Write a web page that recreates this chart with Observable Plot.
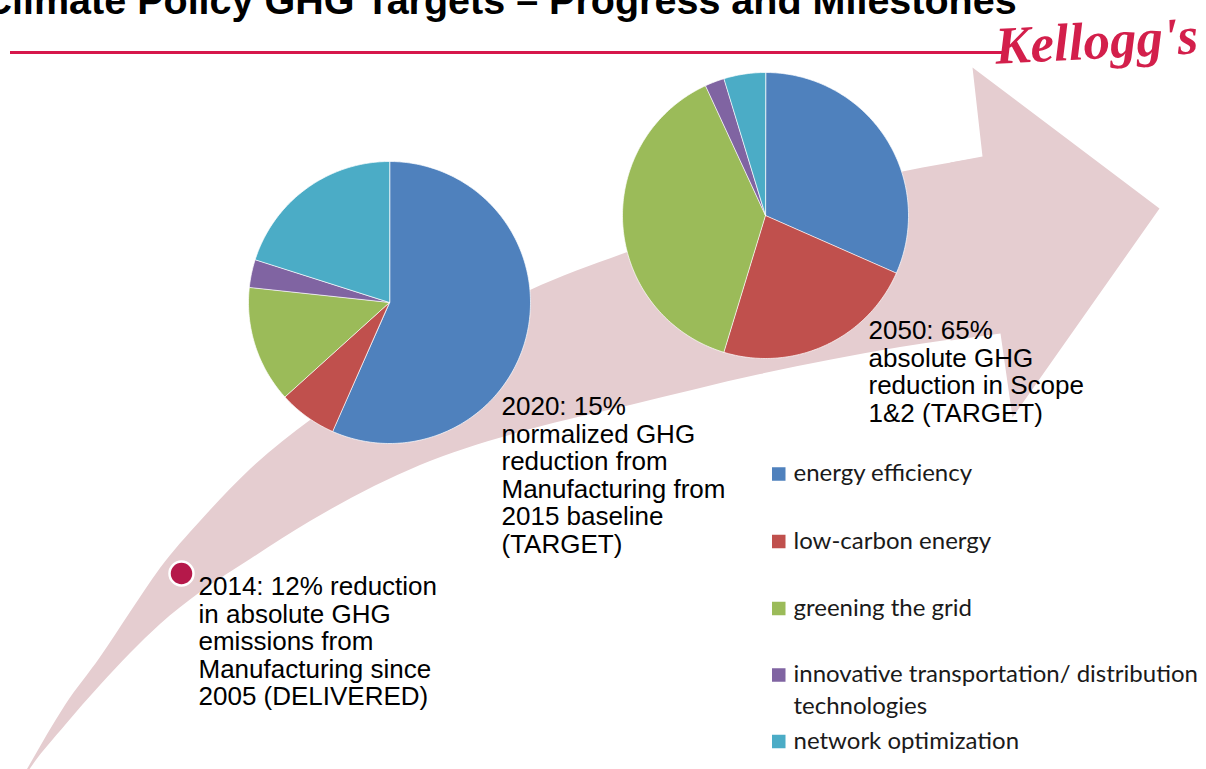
<!DOCTYPE html>
<html><head><meta charset="utf-8">
<script src="https://cdn.jsdelivr.net/npm/d3@7"></script>
<script src="https://cdn.jsdelivr.net/npm/@observablehq/plot@0.6"></script>
<style>html,body{margin:0;padding:0;background:#fff;overflow:hidden}#chart svg{display:block}</style>
</head><body><div id="chart"></div>
<script>
// ---- data ----
const categories = ["energy efficiency", "low-carbon energy", "greening the grid", "innovative transportation/ distribution technologies", "network optimization"];
const colors = ["#4f81bd", "#c0504d", "#9bbb59", "#8064a2", "#4bacc6"];
const pie2020 = [56.6, 6.7, 13.4, 3.2, 20.1];
const pie2050 = [31.6, 23.1, 38.4, 2.2, 4.7];
const milestoneText = [
  "2014: 12% reduction\nin absolute GHG\nemissions from\nManufacturing since\n2005 (DELIVERED)",
  "2020: 15%\nnormalized GHG\nreduction from\nManufacturing from\n2015 baseline\n(TARGET)",
  "2050: 65%\nabsolute GHG\nreduction in Scope\n1&2 (TARGET)"
];
const titleText = "Climate Policy GHG Targets \u2013 Progress and Milestones";
const brandText = "Kellogg's";

// decorative arrow outline (pixel layout)
const arrowShaftX      = [8,   27,  65,  100, 130, 160, 200, 250, 310, 420, 530, 630, 760, 900, 990];
const arrowShaftTop    = [802, 769, 705, 657, 612, 568, 521, 469, 420, 350, 290, 251, 208, 172, 156];
const arrowShaftBottom = [806, 773, 725, 685, 653, 624, 592, 559, 521, 465, 429, 405, 374, 347, 334];
const arrowHeadOutline = [[972,67],[1159,208],[1012,417],[1000,333],[950,340],[950,162],[982,156]];

// ---- layout ----
const W = 1206, H = 769;
const pieLayout = [{values: pie2020, cx: 389, cy: 302, r: 141, key: "p2020"}, {values: pie2050, cx: 765, cy: 215, r: 143, key: "p2050"}];
const textLayout = [{x: 198, y: 575}, {x: 501, y: 395}, {x: 868, y: 319}];
const legendLayout = {x: 772, size: 13.5, tx: 793, ys: [474, 541.5, 608.5, 675, 741.5]};

const shaft = arrowShaftX.map((x, i) => ({x, top: arrowShaftTop[i], bottom: arrowShaftBottom[i]}));
const head = arrowHeadOutline.map(([x, y]) => ({x, y}));

const slices = [];
for (const p of pieLayout) {
  const arcs = d3.pie().sort(null).value(d => d)(p.values);
  arcs.forEach((a, i) => {
    const id = p.key + "-" + i, cat = categories[i];
    slices.push({id, cat, x: p.cx, y: p.cy});
    const n = Math.max(2, Math.ceil((a.endAngle - a.startAngle) / (Math.PI / 180)));
    for (let k = 0; k <= n; k++) {
      const t = a.startAngle + (a.endAngle - a.startAngle) * k / n;
      slices.push({id, cat, x: p.cx + p.r * Math.sin(t), y: p.cy - p.r * Math.cos(t)});
    }
  });
}

const milestones = milestoneText.map((text, i) => ({text, ...textLayout[i]}));
const legendRows = categories.map((cat, i) => ({
  cat,
  label: cat.replace("distribution ", "distribution\n"),
  x1: legendLayout.x, x2: legendLayout.x + legendLayout.size,
  y1: legendLayout.ys[i] - legendLayout.size / 2, y2: legendLayout.ys[i] + legendLayout.size / 2,
  tx: legendLayout.tx, ty: legendLayout.ys[i] - 16
}));

const chart = Plot.plot({
  width: W, height: H, margin: 0,
  x: {domain: [0, W], axis: null},
  y: {domain: [0, H], reverse: true, axis: null},
  color: {domain: categories, range: colors},
  style: {background: "white"},
  marks: [
    Plot.areaY(shaft, {x: "x", y1: "top", y2: "bottom", fill: "#e5cdd0", curve: "monotone-x"}),
    Plot.line(head, {x: "x", y: "y", fill: "#e5cdd0", stroke: "none", curve: "linear-closed"}),
    Plot.line(slices, {x: "x", y: "y", z: "id", fill: "cat", stroke: "white", strokeWidth: 1, strokeOpacity: 0.7, curve: "linear-closed"}),
    Plot.ruleY([52], {x1: 10, x2: 1008, stroke: "#d6174b", strokeWidth: 3}),
    Plot.text([titleText], {x: -17, y: 13, text: d => d, textAnchor: "start", lineAnchor: "bottom", fontFamily: "Liberation Sans", fontWeight: "bold", fontSize: 39.5, fill: "black"}),
    Plot.text([brandText], {x: 1097, y: 58, text: d => d, textAnchor: "middle", lineAnchor: "bottom", rotate: -3, fontFamily: "Liberation Serif", fontStyle: "italic", fontWeight: "bold", fontSize: 53, fill: "#d31f4b"}),
    Plot.dot([milestones[0]], {x: d => d.x - 17, y: d => d.y - 2, r: 12, fill: "#b5184a", stroke: "white", strokeWidth: 2.5}),
    Plot.text(milestones, {x: "x", y: "y", text: "text", textAnchor: "start", lineAnchor: "top", lineHeight: 1.06, fontFamily: "Liberation Sans", fontSize: 26, fill: "black"}),
    Plot.rect(legendRows, {x1: "x1", x2: "x2", y1: "y1", y2: "y2", fill: "cat"}),
    Plot.text(legendRows, {x: "tx", y: "ty", text: "label", textAnchor: "start", lineAnchor: "top", lineHeight: 1.33, fontFamily: "Lato", fontSize: 24, fill: "#1a1a1a"})
  ]
});
document.getElementById("chart").append(chart);
</script></body></html>
